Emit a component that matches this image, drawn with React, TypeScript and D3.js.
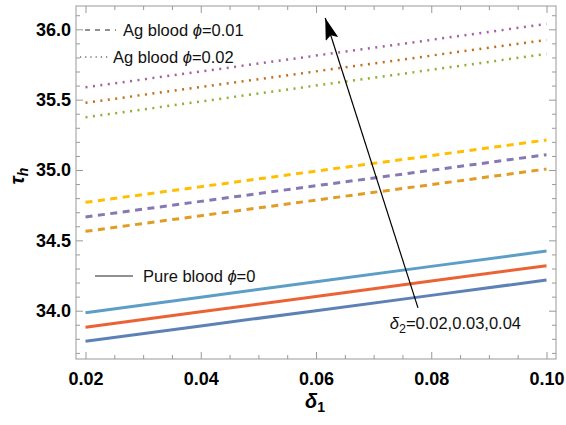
import * as d3 from 'd3'
import { useEffect, useRef } from 'react';

// delta_1 sample points
const delta1 = [0.02, 0.04, 0.06, 0.08, 0.10];

// pure blood (phi = 0), delta_2 = 0.04, 0.03, 0.02
const pureD2a = [33.783, 33.892, 34.000, 34.109, 34.218];
const pureD2b = [33.882, 33.992, 34.101, 34.211, 34.320];
const pureD2c = [33.986, 34.096, 34.205, 34.315, 34.424];

// Ag blood phi = 0.01
const ag1D2a = [34.564, 34.675, 34.786, 34.896, 35.007];
const ag1D2b = [34.666, 34.777, 34.888, 34.998, 35.109];
const ag1D2c = [34.770, 34.881, 34.992, 35.102, 35.213];

// Ag blood phi = 0.02
const ag2D2a = [35.374, 35.487, 35.600, 35.712, 35.825];
const ag2D2b = [35.478, 35.590, 35.701, 35.813, 35.924];
const ag2D2c = [35.588, 35.700, 35.813, 35.925, 36.038];

const xTicks = [0.02, 0.04, 0.06, 0.08, 0.10];
const yTicks = [34.0, 34.5, 35.0, 35.5, 36.0];

const series = [
    { vals: pureD2a, color: "#5E81B5", dash: null },
    { vals: pureD2b, color: "#EB6235", dash: null },
    { vals: pureD2c, color: "#5D9EC7", dash: null },
    { vals: ag1D2a, color: "#E19C24", dash: "7 5.5" },
    { vals: ag1D2b, color: "#8778B3", dash: "7 5.5" },
    { vals: ag1D2c, color: "#FFBF00", dash: "7 5.5" },
    { vals: ag2D2a, color: "#8FB032", dash: "2 5.5" },
    { vals: ag2D2b, color: "#C56E1A", dash: "2 5.5" },
    { vals: ag2D2c, color: "#A5609D", dash: "2 5.5" },
];

const W = 566, H = 425;
const frame = { left: 76, right: 556, top: 6, bottom: 359 };

function makeChart(svgEl: SVGSVGElement) {
    const svg = d3.select(svgEl);
    svg.selectAll("*").remove();

    const x = d3.scaleLinear().domain([0.02, 0.10]).range([85.5, 546.5]);
    const y = d3.scaleLinear().domain([34, 36]).range([310.7, 29.3]);

    const xMinor = d3.range(0.015, 0.1001, 0.005).filter(v => xTicks.every(t => Math.abs(t - v) > 1e-6) && x(v) > frame.left);
    const yMinor = d3.range(33.7, 36.15, 0.1).filter(v => yTicks.every(t => Math.abs(t - v) > 1e-6) && y(v) > frame.top && y(v) < frame.bottom);

    const tickCol = "#999";
    const font = "'Liberation Sans', Arial, sans-serif";

    // frame
    svg.append("rect")
        .attr("x", frame.left).attr("y", frame.top)
        .attr("width", frame.right - frame.left).attr("height", frame.bottom - frame.top)
        .attr("fill", "white").attr("stroke", tickCol).attr("stroke-width", 1);

    const styleAxis = (g: any) => {
        g.select(".domain").remove();
        g.selectAll(".tick line").attr("stroke", tickCol);
        g.selectAll("text").attr("font-family", font).attr("font-size", 18)
            .attr("font-weight", "bold").attr("fill", "black");
    };

    // bottom
    svg.append("g").attr("transform", `translate(0,${frame.bottom})`)
        .call(d3.axisBottom(x).tickValues(xTicks).tickSize(-7).tickPadding(13).tickFormat(d3.format(".2f")))
        .call(styleAxis);
    svg.append("g").attr("transform", `translate(0,${frame.bottom})`)
        .call(d3.axisBottom(x).tickValues(xMinor).tickSize(-4).tickFormat(() => ""))
        .call(styleAxis);
    // top
    svg.append("g").attr("transform", `translate(0,${frame.top})`)
        .call(d3.axisTop(x).tickValues(xTicks).tickSize(-7).tickFormat(() => ""))
        .call(styleAxis);
    svg.append("g").attr("transform", `translate(0,${frame.top})`)
        .call(d3.axisTop(x).tickValues(xMinor).tickSize(-4).tickFormat(() => ""))
        .call(styleAxis);
    // left
    svg.append("g").attr("transform", `translate(${frame.left},0)`)
        .call(d3.axisLeft(y).tickValues(yTicks).tickSize(-7).tickPadding(5).tickFormat(d3.format(".1f")))
        .call(styleAxis);
    svg.append("g").attr("transform", `translate(${frame.left},0)`)
        .call(d3.axisLeft(y).tickValues(yMinor).tickSize(-4).tickFormat(() => ""))
        .call(styleAxis);
    // right
    svg.append("g").attr("transform", `translate(${frame.right},0)`)
        .call(d3.axisRight(y).tickValues(yTicks).tickSize(-7).tickFormat(() => ""))
        .call(styleAxis);
    svg.append("g").attr("transform", `translate(${frame.right},0)`)
        .call(d3.axisRight(y).tickValues(yMinor).tickSize(-4).tickFormat(() => ""))
        .call(styleAxis);

    // curves
    const line = d3.line<number>().x((d, i) => x(delta1[i])).y(d => y(d));
    series.forEach(s => {
        svg.append("path")
            .attr("d", line(s.vals))
            .attr("fill", "none")
            .attr("stroke", s.color)
            .attr("stroke-width", s.dash === "2 5.5" ? 2.5 : 3)
            .attr("stroke-dasharray", s.dash);
    });

    // legend entries
    const legend = [
        { x1: 85, x2: 116, y: 30, tx: 123, text: "Ag blood ", sym: "=0.01", dash: "5 5" },
        { x1: 80, x2: 108, y: 57, tx: 113, text: "Ag blood ", sym: "=0.02", dash: "1.2 4" },
        { x1: 95, x2: 133, y: 276, tx: 143, text: "Pure blood ", sym: "=0", dash: null },
    ];
    legend.forEach(l => {
        svg.append("line")
            .attr("x1", l.x1).attr("x2", l.x2).attr("y1", l.y).attr("y2", l.y)
            .attr("stroke", "#222").attr("stroke-width", 1)
            .attr("stroke-dasharray", l.dash);
        const t = svg.append("text")
            .attr("x", l.tx).attr("y", l.y + 6)
            .attr("font-family", font).attr("font-size", 16.5).attr("fill", "#111");
        t.append("tspan").text(l.text);
        t.append("tspan").attr("font-style", "italic").text("\u03d5");
        t.append("tspan").text(l.sym);
    });

    // arrow annotation (data coordinates)
    const arrowFrom = { x: 0.0777, y: 34.02 };
    const arrowTo = { x: 0.0616, y: 36.08 };
    const defs = svg.append("defs");
    defs.append("marker")
        .attr("id", "arrowhead").attr("markerUnits", "userSpaceOnUse")
        .attr("viewBox", "0 0 22 13").attr("refX", 22).attr("refY", 6.5)
        .attr("markerWidth", 22).attr("markerHeight", 13).attr("orient", "auto")
        .append("path").attr("d", "M0,0 L22,6.5 L0,13 L4,6.5 Z").attr("fill", "black");
    svg.append("line")
        .attr("x1", x(arrowFrom.x)).attr("y1", y(arrowFrom.y))
        .attr("x2", x(arrowTo.x)).attr("y2", y(arrowTo.y))
        .attr("stroke", "black").attr("stroke-width", 1.2)
        .attr("marker-end", "url(#arrowhead)");

    const d2 = svg.append("text")
        .attr("x", x(0.0728)).attr("y", y(33.87))
        .attr("font-family", font).attr("font-size", 16.5).attr("fill", "#111");
    d2.append("tspan").attr("font-style", "italic").text("\u03b4");
    d2.append("tspan").attr("font-size", 12.5).attr("dy", 4).text("2");
    d2.append("tspan").attr("dy", -4).text("=0.02,0.03,0.04");

    // axis labels
    const xl = svg.append("text")
        .attr("x", 315).attr("y", 408).attr("text-anchor", "middle")
        .attr("font-family", font).attr("font-size", 20).attr("font-weight", "bold");
    xl.append("tspan").attr("font-style", "italic").text("\u03b4");
    xl.append("tspan").attr("font-size", 14).attr("dy", 4).text("1");

    const yl = svg.append("text")
        .attr("transform", "translate(24,176) rotate(-90)").attr("text-anchor", "middle")
        .attr("font-family", font).attr("font-size", 20).attr("font-weight", "bold");
    yl.append("tspan").attr("font-style", "italic").text("\u03c4");
    yl.append("tspan").attr("font-size", 14).attr("dy", 4).attr("font-style", "italic").text("h");
}

function App() {
    const ref = useRef<SVGSVGElement>(null);
    useEffect(() => {
        if (ref.current) makeChart(ref.current);
    });

    return (
        <svg ref={ref} width={W} height={H}
            style={{ position: "absolute", left: 0, top: 0, background: "white" }}>
        </svg>
    );
}

export default App;
